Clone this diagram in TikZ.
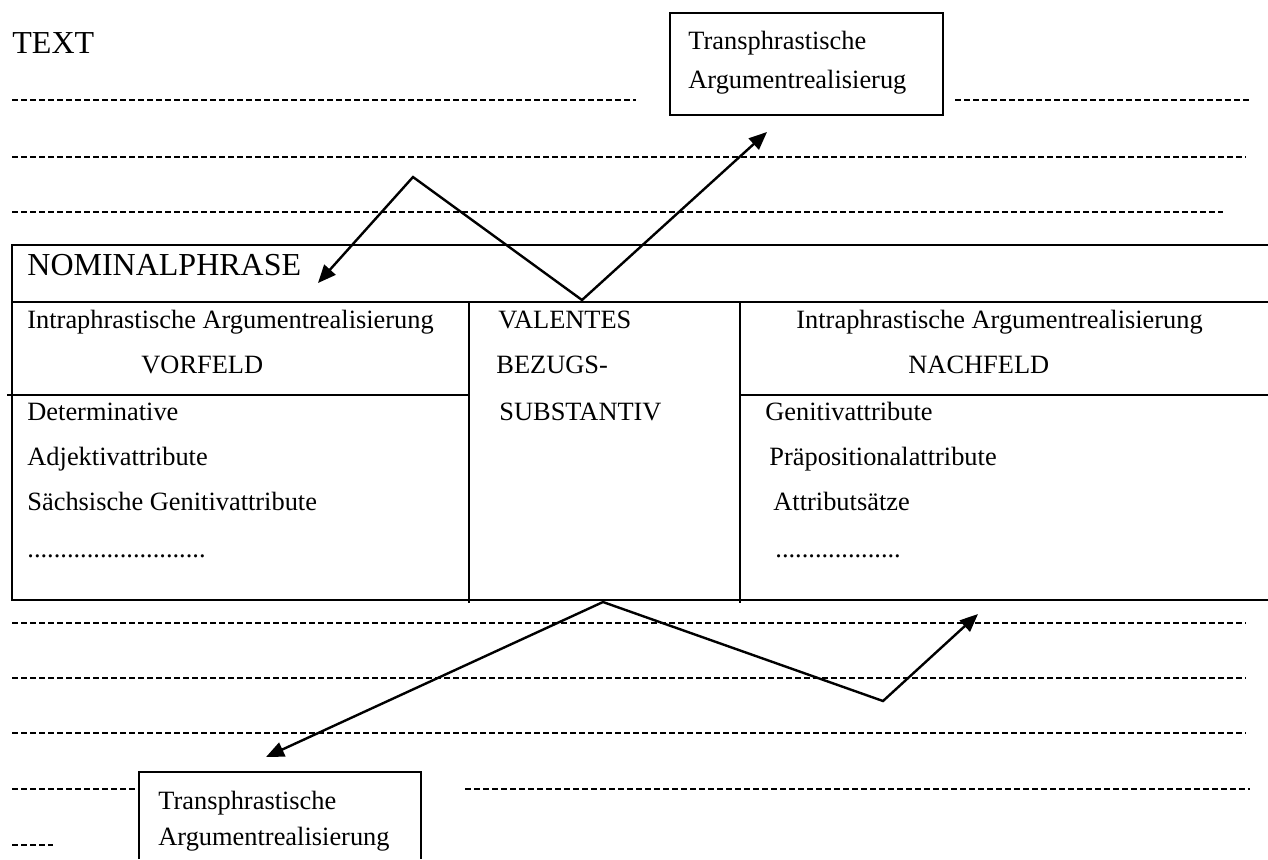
\documentclass[tikz,border=0pt]{standalone}
\usepackage{fontspec}
\setmainfont{Liberation Serif}
\usetikzlibrary{arrows.meta}
\tikzset{
  filler/.style={dash pattern=on 3pt off 1.5pt, line width=1.1pt},
  frame/.style={line width=1.2pt},
  link/.style={line width=1.2pt, {Triangle[length=9pt,width=7.5pt]}-{Triangle[length=9pt,width=7.5pt]}},
  lbl/.style={anchor=base west, inner sep=0pt, font=\fontsize{13.2}{15}\selectfont},
  head/.style={anchor=base west, inner sep=0pt, font=\fontsize{16}{19}\selectfont},
}
\begin{document}
\begin{tikzpicture}[x=0.5pt,y=-0.5pt]
\useasboundingbox (0,0) rectangle (1268,859);

\node[head] (text) at (12, 53) {TEXT};

% dotted lines of the text above
\draw[filler] (12, 100) -- (636, 100);
\draw[filler] (955, 100) -- (1250, 100);
\draw[filler] (12, 157) -- (1246, 157);
\draw[filler] (12, 212) -- (1223, 212);

\draw[frame] (670, 13) rectangle (943, 115);
\node[lbl] (transtop1) at (688, 49) {Transphrastische};
\node[lbl] (transtop2) at (688, 88) {Argumentrealisierug};

% the noun phrase
\draw[frame] (1268, 245) -- (12, 245) -- (12, 600) -- (1268, 600);
\draw[frame] (12, 302) -- (1268, 302);
\draw[frame] (469, 302) -- (469, 603);
\draw[frame] (740, 302) -- (740, 603);
\draw[frame] (7, 395) -- (469, 395);
\draw[frame] (740, 395) -- (1268, 395);

\node[head] (np) at (27, 275) {NOMINALPHRASE};

\node[lbl] (intraL) at (27, 328) {Intraphrastische Argumentrealisierung};
\node[lbl] (vorfeld) at (141, 373) {VORFELD};
\node[lbl] (det) at (27, 420) {Determinative};
\node[lbl] (adj) at (27, 465) {Adjektivattribute};
\node[lbl] (saechs) at (27, 510) {Sächsische Genitivattribute};
\node[lbl] (dotsL) at (27, 557) {...........................};

\node[lbl] (val) at (498, 328) {VALENTES};
\node[lbl] (bez) at (496, 373) {BEZUGS-};
\node[lbl] (subst) at (499, 420) {SUBSTANTIV};

\node[lbl] (intraR) at (796, 328) {Intraphrastische Argumentrealisierung};
\node[lbl] (nachfeld) at (908, 373) {NACHFELD};
\node[lbl] (gen) at (765, 420) {Genitivattribute};
\node[lbl] (praep) at (769, 465) {Präpositionalattribute};
\node[lbl] (attsatz) at (773, 510) {Attributsätze};
\node[lbl] (dotsR) at (775, 557) {...................};

% dotted lines of the text below
\draw[filler] (12, 623) -- (1246, 623);
\draw[filler] (12, 678) -- (1246, 678);
\draw[filler] (12, 733) -- (1246, 733);
\draw[filler] (12, 789) -- (135, 789);
\draw[filler] (465, 789) -- (1250, 789);
\draw[filler] (12, 845) -- (53, 845);

\draw[frame] (139, 859) -- (139, 772) -- (421, 772) -- (421, 859);
\node[lbl] (transbot1) at (158, 809) {Transphrastische};
\node[lbl] (transbot2) at (158, 845) {Argumentrealisierung};

\coordinate (tipA) at (318, 283);
\coordinate (peak) at (413, 177);
\coordinate (valley) at (582, 300);
\coordinate (tipB) at (767, 132);
\coordinate (tipC) at (266, 757);
\coordinate (apex) at (603, 602);
\coordinate (dip) at (883, 701);
\coordinate (tipD) at (978, 614);

\draw[link] (tipA) -- (peak) -- (valley) -- (tipB);
\draw[link] (tipC) -- (apex) -- (dip) -- (tipD);

\end{tikzpicture}
\end{document}
